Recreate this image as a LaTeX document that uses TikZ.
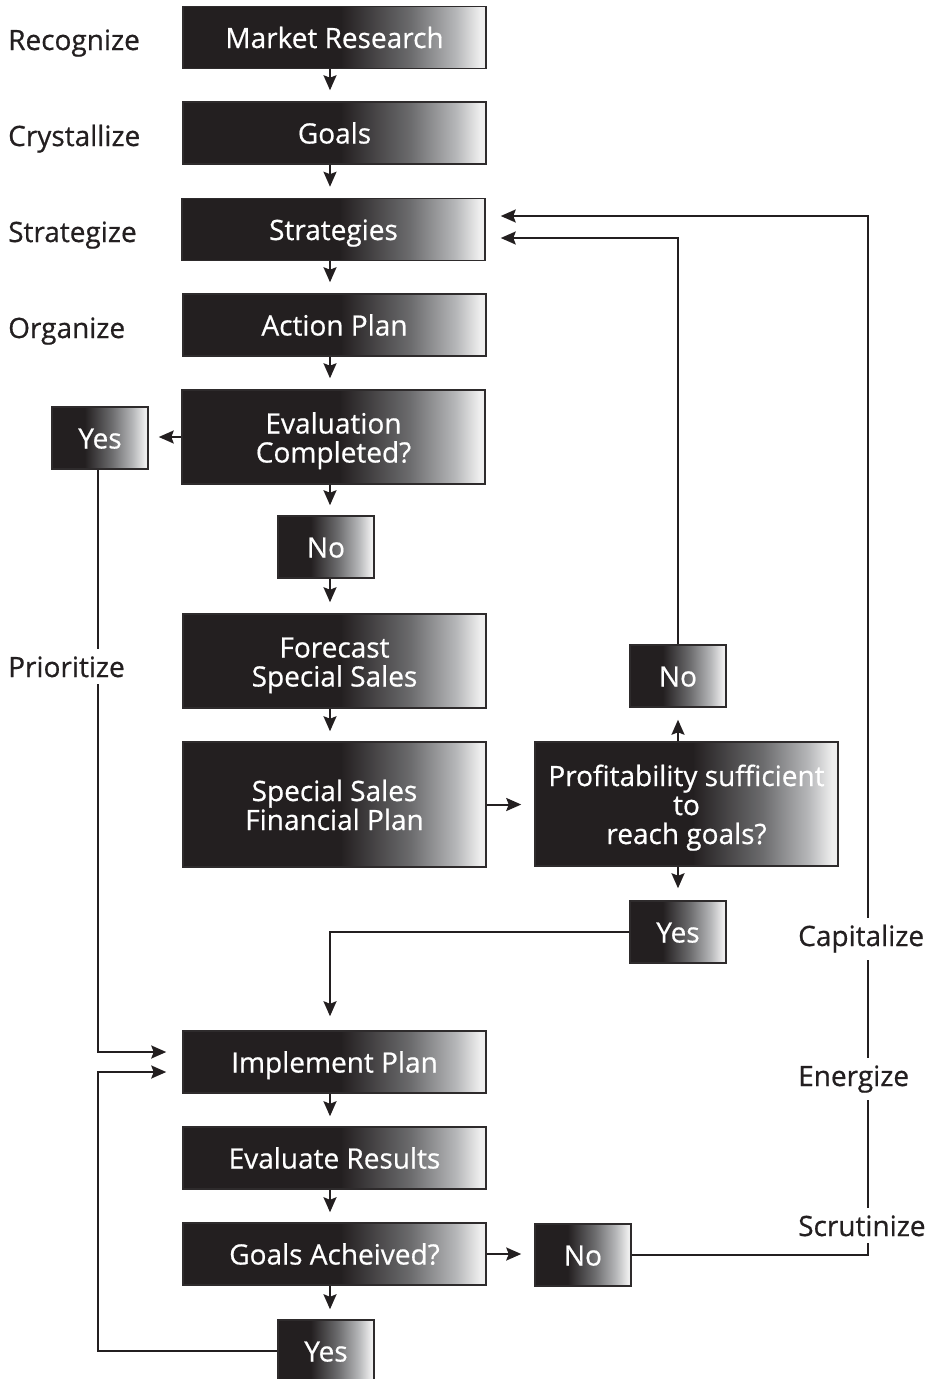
\documentclass[tikz,border=0pt]{standalone}
\usepackage{fontspec}
\setmainfont{Open Sans}[FakeBold=0.6]
\usetikzlibrary{arrows.meta}

\definecolor{ink}{HTML}{231F20}
\definecolor{edge}{HTML}{2E2B2C}
\definecolor{gA}{HTML}{6B6B6D}
\definecolor{gB}{HTML}{B5B6B8}
\definecolor{gC}{HTML}{EEEEEE}

% dark-to-light fill for the wide boxes and the small yes/no boxes
\pgfdeclarehorizontalshading{wideshade}{100bp}{color(0bp)=(ink); color(51bp)=(ink); color(62.5bp)=(gA); color(70bp)=(gB); color(74bp)=(gC); color(100bp)=(gC)}
\pgfdeclarehorizontalshading{smallshade}{100bp}{color(0bp)=(ink); color(42bp)=(ink); color(56bp)=(gA); color(67bp)=(gB); color(73.5bp)=(gC); color(100bp)=(gC)}

\newcommand{\labelfont}{\fontsize{28}{29}\selectfont}

\tikzset{
  box/.style={rectangle, draw=edge, line width=1.5pt, shading=wideshade,
    text=white, font=\labelfont, align=center, inner sep=0pt,
    minimum width=303pt, minimum height=62pt,
    text height=21pt, text depth=0pt},
  % multi-line text is measured from its last baseline
  twoline/.style={text height=51pt, text depth=0pt},
  threeline/.style={text height=80pt, text depth=0pt},
  small/.style={box, shading=smallshade, minimum width=96pt},
  conn/.style={draw=ink, line width=2pt},
  arr/.style={conn, -{Stealth[length=15pt, width=13pt, inset=2.5pt]}},
  lab/.style={text=ink, font=\labelfont, inner sep=0pt},
  gaplab/.style={lab, fill=white, inner ysep=7pt, inner xsep=0pt}
}

\begin{document}
\begin{tikzpicture}[x=1pt, y=-1pt]
\useasboundingbox (0,0) rectangle (939,1379);

% guide rails for the connectors
\coordinate (spine) at (330,0);
\coordinate (lrail) at (98,0);
\coordinate (rrail) at (868,0);

% main column
\node[box] (mr)    at (334.5,37.5) {Market Research};
\node[box] (goals) at (334.5,133)  {Goals};
\node[box] (strat) at (333.5,229.5) {Strategies};
\node[box] (ap)    at (334.5,325)  {Action Plan};
\node[box, twoline, minimum height=94pt] (eval) at (333.5,437) {Evaluation\\Completed?};
\node[small] (yes1) at (100,438) {Yes};
\node[small] (no1)  at (326,547) {No};
\node[box, twoline, minimum height=94pt]  (fc)  at (334.5,661)   {Forecast\\Special Sales};
\node[box, twoline, minimum height=125pt] (fin) at (334.5,804.5) {Special Sales\\Financial Plan};
\node[box, threeline, minimum height=124pt] (prof) at (686.5,804) {Profitability sufficient\\to\\reach goals?};
\node[small] (no2)  at (678,676) {No};
\node[small] (yes2) at (678,932) {Yes};
\node[box] (impl) at (334.5,1062) {Implement Plan};
\node[box] (evr)  at (334.5,1158) {Evaluate Results};
\node[box] (ga)   at (334.5,1254) {Goals Acheived?};
\node[small] (no3)  at (583,1255) {No};
\node[small] (yes3) at (326,1351) {Yes};

% straight flow
\draw[arr, shorten >=11pt] (mr.south -| spine) -- (goals.north -| spine);
\draw[arr, shorten >=11pt] (goals.south -| spine) -- (strat.north -| spine);
\draw[arr, shorten >=11pt] (strat.south -| spine) -- (ap.north -| spine);
\draw[arr, shorten >=11pt] (ap.south -| spine) -- (eval.north -| spine);
\draw[arr, shorten >=10pt] (eval.west) -- (eval.west -| yes1.east);
\draw[arr, shorten >=10pt] (eval.south -| spine) -- (no1.north -| spine);
\draw[arr, shorten >=11pt] (no1.south -| spine) -- (fc.north -| spine);
\draw[arr, shorten >=10pt] (fc.south -| spine) -- (fin.north -| spine);
\draw[arr, shorten >=13pt] (fin.east) -- (fin.east -| prof.west);
\draw[arr, shorten >=12pt] (prof.north -| no2) -- (no2.south);
\draw[arr, shorten >=12pt] (prof.south -| yes2) -- (yes2.north);
\draw[arr, shorten >=10pt] (impl.south -| spine) -- (evr.north -| spine);
\draw[arr, shorten >=10pt] (evr.south -| spine) -- (ga.north -| spine);
\draw[arr, shorten >=10pt] (ga.south -| spine) -- (yes3.north -| spine);
\draw[arr, shorten >=13pt] (ga.east) -- (ga.east -| no3.west);

% loops back
\draw[arr, shorten >=15pt] (no2.north) |- ([yshift=-8.5pt]strat.east);
\draw[arr, shorten >=15pt] (no3.east) -| ([yshift=13.5pt]strat.east -| rrail) -- ([yshift=13.5pt]strat.east);
\draw[arr, shorten >=14pt] (yes2.west) -| (impl.north -| spine);
\draw[arr, shorten >=16pt] (yes1.south -| lrail) |- ([yshift=10pt]impl.west);
\draw[arr, shorten >=16pt] (yes3.west) -| ([yshift=-10pt]impl.west -| lrail) -- ([yshift=-10pt]impl.west);

% stage names
\node[lab, anchor=base west] (l1) at (8,50)  {Recognize};
\node[lab, anchor=base west] (l2) at (8,146) {Crystallize};
\node[lab, anchor=base west] (l3) at (8,242) {Strategize};
\node[lab, anchor=base west] (l4) at (8,338) {Organize};
\node[gaplab, anchor=base west] (l5) at (8,677) {Prioritize};
\node[gaplab, anchor=base west] (l6) at (798,946)  {Capitalize};
\node[gaplab, anchor=base west] (l7) at (798,1086) {Energize};
\node[gaplab, anchor=base west] (l8) at (798,1236) {Scrutinize};
\end{tikzpicture}
\end{document}
